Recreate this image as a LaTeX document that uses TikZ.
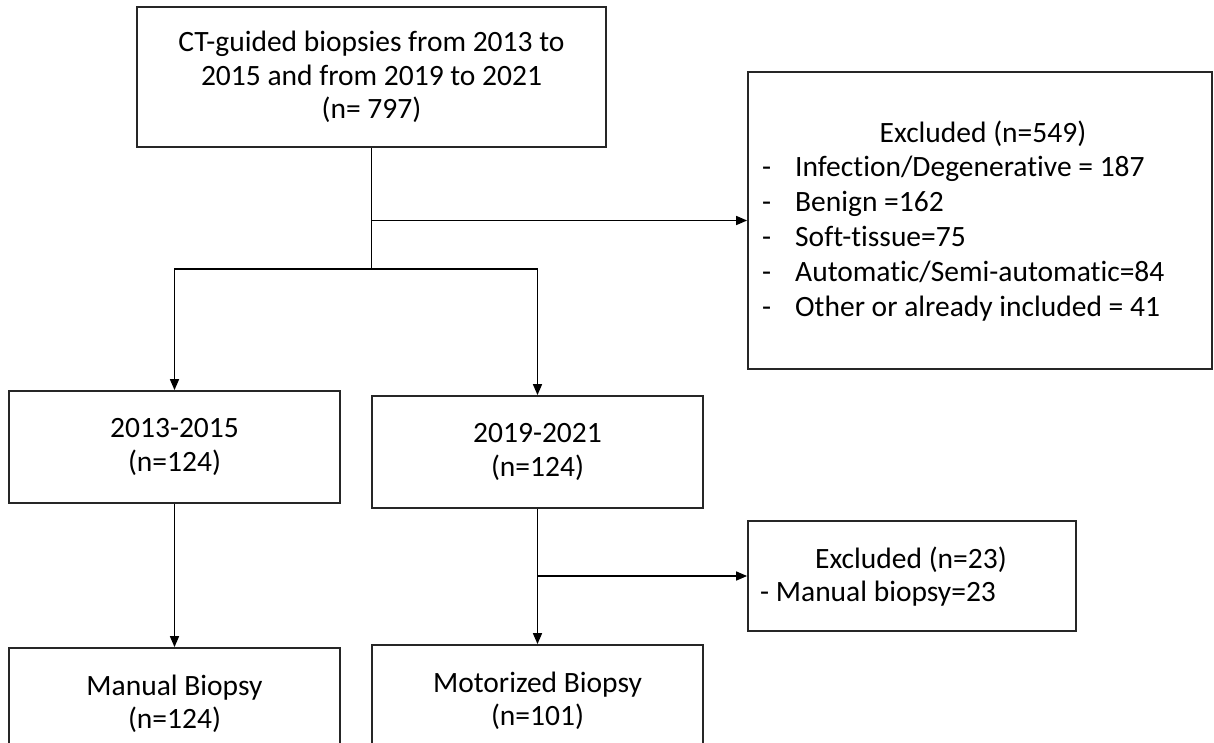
\documentclass[tikz,border=0pt]{standalone}
\usepackage{fontspec}
\setmainfont{Carlito}[Ligatures=NoCommon]
\usetikzlibrary{arrows.meta}
\begin{document}
\begin{tikzpicture}[x=1pt,y=-1pt,
  box/.style={draw=black!85,line width=1.8pt,inner sep=0pt,align=center,
    font=\fontsize{29.5}{33.5}\selectfont},
  txt/.style={inner sep=0pt,font=\fontsize{29.5}{35}\selectfont},
  conn/.style={line width=1.6pt,black},
  arr/.style={conn,-{Triangle[length=11pt,width=9pt]}}]
\useasboundingbox (0,0) rectangle (1214,742);
% boxes
\node[box,minimum width=469pt,minimum height=140pt] (top) at (371.5,77)
  {CT-guided biopsies from 2013 to\\2015 and from 2019 to 2021\\(n= 797)};
\node[box,minimum width=464pt,minimum height=297pt] (exc) at (980,220.5) {};
\node[box,minimum width=331pt,minimum height=112pt] (a) at (174.5,447) {2013-2015\\(n=124)};
\node[box,minimum width=331pt,minimum height=112pt] (b) at (537.5,452) {2019-2021\\(n=124)};
\node[box,minimum width=328pt,minimum height=110pt] (exc2) at (912,576) {};
\node[box,minimum width=331pt,minimum height=112pt] (man) at (174.5,704) {Manual Biopsy\\(n=124)};
\node[box,minimum width=331pt,minimum height=112pt] (mot) at (537.5,701) {Motorized Biopsy\\(n=101)};
% texts of the excluded boxes
\node[txt] (exct) at (983,134) {Excluded (n=549)};
\node[txt,anchor=west,align=left] (excl) at (762,239.5)
  {\begin{tabular}{@{}p{33pt}@{}l@{}}
   -&Infection/Degenerative = 187\\
   -&Benign =162\\
   -&Soft-tissue=75\\
   -&Automatic/Semi-automatic=84\\
   -&Other or already included = 41
   \end{tabular}};
\node[txt] (exc2t) at (911,560) {Excluded (n=23)};
\node[txt,anchor=west] (exc2l) at (760,594) {- Manual biopsy=23};
% connectors
\coordinate (j1) at (371.5,269);
\draw[conn] (top.south) -- (j1);
\draw[arr] (j1) -| (a.north);
\draw[arr] (j1) -| (b.north);
\draw[arr] (top.south |- exc.west) -- (exc.west);
\draw[arr] (a.south) -- (man.north);
\draw[arr] (b.south) -- (mot.north);
\draw[arr] (b.south |- exc2.west) -- (exc2.west);
\end{tikzpicture}
\end{document}
